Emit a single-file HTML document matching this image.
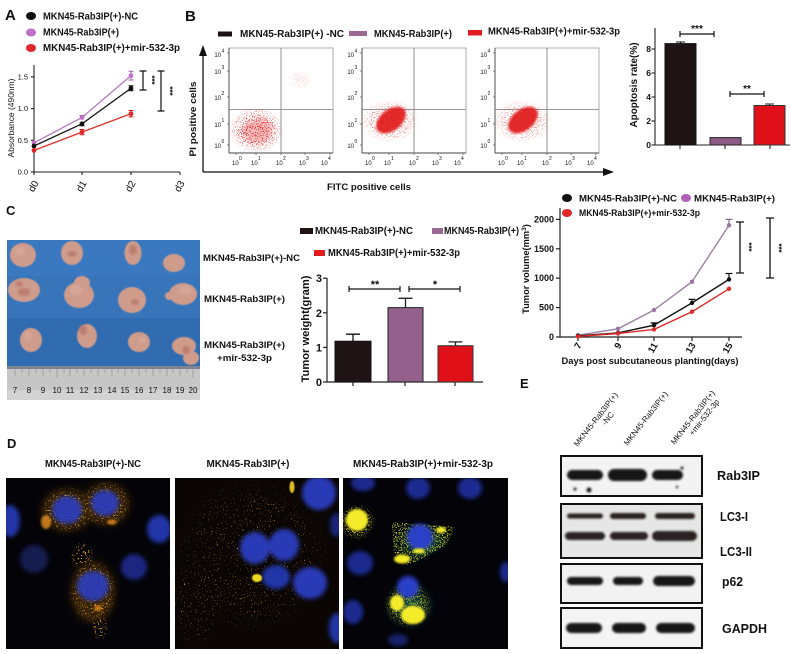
<!DOCTYPE html>
<html><head><meta charset="utf-8"><style>
html,body{margin:0;padding:0;background:#fff;}
svg{display:block;}
text{font-family:"Liberation Sans",Arial,sans-serif;fill:#111;}
.b{font-weight:bold;}
</style></head><body>
<svg width="791" height="654" viewBox="0 0 791 654" xmlns="http://www.w3.org/2000/svg">
<defs>
  <filter id="bl2" x="-50%" y="-50%" width="200%" height="200%"><feGaussianBlur stdDeviation="2.2"/></filter>
  <filter id="bl4" x="-50%" y="-50%" width="200%" height="200%"><feGaussianBlur stdDeviation="4"/></filter>
  <filter id="bl1" x="-50%" y="-50%" width="200%" height="200%"><feGaussianBlur stdDeviation="1"/></filter>
  <filter id="bl05" x="-50%" y="-50%" width="200%" height="200%"><feGaussianBlur stdDeviation="0.6"/></filter>
  <filter id="spA" x="-10%" y="-10%" width="120%" height="120%" color-interpolation-filters="sRGB">
    <feTurbulence type="fractalNoise" baseFrequency="0.8" numOctaves="1" seed="7" result="t"/>
    <feColorMatrix in="t" type="matrix" values="0 0 0 0 0  0 0 0 0 0  0 0 0 0 0  1.3 0 0 0 -0.15" result="a"/>
    <feComponentTransfer in="a" result="m"><feFuncA type="discrete" tableValues="0 0 0 0 0 0 1 1 1 1"/></feComponentTransfer>
    <feComposite in="SourceGraphic" in2="m" operator="in"/>
  </filter>
  <filter id="spB" x="-10%" y="-10%" width="120%" height="120%" color-interpolation-filters="sRGB">
    <feTurbulence type="fractalNoise" baseFrequency="0.6" numOctaves="2" seed="11" result="t"/>
    <feColorMatrix in="t" type="matrix" values="0 0 0 0 0  0 0 0 0 0  0 0 0 0 0  1.3 0 0 0 -0.15" result="a"/>
    <feComponentTransfer in="a" result="m"><feFuncA type="discrete" tableValues="0 0 0 0 0 0 0 1 1 1"/></feComponentTransfer>
    <feComposite in="SourceGraphic" in2="m" operator="in"/>
  </filter>
  <filter id="spC" x="-10%" y="-10%" width="120%" height="120%" color-interpolation-filters="sRGB">
    <feTurbulence type="fractalNoise" baseFrequency="0.7" numOctaves="2" seed="4" result="t"/>
    <feColorMatrix in="t" type="matrix" values="0 0 0 0 0  0 0 0 0 0  0 0 0 0 0  1.3 0 0 0 -0.15" result="a"/>
    <feComponentTransfer in="a" result="m"><feFuncA type="discrete" tableValues="0 0 0 0 0 0 0 0 1 1"/></feComponentTransfer>
    <feComposite in="SourceGraphic" in2="m" operator="in"/>
  </filter>
  <radialGradient id="rg" cx="0.5" cy="0.5" r="0.5">
    <stop offset="0" stop-color="#e01818" stop-opacity="1"/>
    <stop offset="0.6" stop-color="#e01818" stop-opacity="0.8"/>
    <stop offset="1" stop-color="#e01818" stop-opacity="0"/>
  </radialGradient>
  <radialGradient id="og" cx="0.5" cy="0.5" r="0.5">
    <stop offset="0" stop-color="#f0a020" stop-opacity="1"/>
    <stop offset="0.7" stop-color="#e8a018" stop-opacity="0.9"/>
    <stop offset="1" stop-color="#e8a018" stop-opacity="0"/>
  </radialGradient>
  <radialGradient id="yg" cx="0.5" cy="0.5" r="0.5">
    <stop offset="0" stop-color="#f4ec30" stop-opacity="1"/>
    <stop offset="0.7" stop-color="#e8e020" stop-opacity="0.9"/>
    <stop offset="1" stop-color="#d8d820" stop-opacity="0"/>
  </radialGradient>
  <radialGradient id="gg" cx="0.5" cy="0.5" r="0.5">
    <stop offset="0" stop-color="#40d0a0" stop-opacity="0.7"/>
    <stop offset="1" stop-color="#30b090" stop-opacity="0"/>
  </radialGradient>
  <clipPath id="cpPhoto"><rect x="7" y="240" width="193" height="160"/></clipPath>
  <clipPath id="cpD1"><rect x="6" y="478" width="164" height="171"/></clipPath>
  <clipPath id="cpD2"><rect x="175" y="478" width="164" height="171"/></clipPath>
  <clipPath id="cpD3"><rect x="343" y="478" width="165" height="171"/></clipPath>
</defs>

<!-- ================= PANEL A ================= -->
<text x="5" y="20" class="b" font-size="15">A</text>
<ellipse cx="31" cy="16" rx="5" ry="4" fill="#111"/>
<text x="43" y="19.5" class="b" font-size="10" textLength="95" lengthAdjust="spacingAndGlyphs">MKN45-Rab3IP(+)-NC</text>
<ellipse cx="31" cy="32.5" rx="5" ry="4" fill="#c070c8"/>
<text x="43" y="35.5" class="b" font-size="10" textLength="76" lengthAdjust="spacingAndGlyphs">MKN45-Rab3IP(+)</text>
<ellipse cx="31" cy="48" rx="5" ry="4" fill="#e0282a"/>
<text x="43" y="51" class="b" font-size="10" textLength="137" lengthAdjust="spacingAndGlyphs">MKN45-Rab3IP(+)+mir-532-3p</text>

<g stroke="#222" stroke-width="1.1" fill="none">
  <line x1="34" y1="65" x2="34" y2="172.5"/>
  <line x1="34" y1="172" x2="180" y2="172"/>
  <line x1="31" y1="172" x2="34" y2="172"/>
  <line x1="31" y1="140.3" x2="34" y2="140.3"/>
  <line x1="31" y1="108.6" x2="34" y2="108.6"/>
  <line x1="31" y1="76.9" x2="34" y2="76.9"/>
  <line x1="34" y1="172" x2="34" y2="175"/>
  <line x1="82" y1="172" x2="82" y2="175"/>
  <line x1="131" y1="172" x2="131" y2="175"/>
  <line x1="180" y1="172" x2="180" y2="175"/>
</g>
<g font-size="7.5" text-anchor="end">
  <text x="28" y="174.5">0.0</text>
  <text x="28" y="142.8">0.5</text>
  <text x="28" y="111.1">1.0</text>
  <text x="28" y="79.4">1.5</text>
</g>
<text transform="translate(14,118) rotate(-90)" font-size="8.5" text-anchor="middle" textLength="79" lengthAdjust="spacingAndGlyphs">Absorbance (490nm)</text>
<g font-size="10" text-anchor="end">
  <text transform="translate(39,183) rotate(-60)">d0</text>
  <text transform="translate(87,183) rotate(-60)">d1</text>
  <text transform="translate(136,183) rotate(-60)">d2</text>
  <text transform="translate(185,183) rotate(-60)">d3</text>
</g>
<polyline points="34,142.8 82,117.5 131,75.6" fill="none" stroke="#b878c0" stroke-width="1.3"/>
<polyline points="34,146 82,123.8 131,88.3" fill="none" stroke="#1a1a1a" stroke-width="1.3"/>
<polyline points="34,150.4 82,132.1 131,113.7" fill="none" stroke="#e0302a" stroke-width="1.3"/>
<g stroke-width="1" fill="none">
  <path d="M131 71.2V80M128.5 71.2H133.5M128.5 80H133.5" stroke="#a060a8"/>
  <path d="M131 85.8V90.8M128.5 85.8H133.5M128.5 90.8H133.5" stroke="#111"/>
  <path d="M131 110.5V116.9M128.5 110.5H133.5M128.5 116.9H133.5" stroke="#d02020"/>
  <path d="M82 115.5V119.5M79.5 115.5H84.5" stroke="#a060a8"/>
  <path d="M82 121.8V125.8M79.5 125.8H84.5" stroke="#111"/>
  <path d="M82 129.5V134.7M79.5 129.5H84.5M79.5 134.7H84.5" stroke="#d02020"/>
</g>
<g fill="#c070c8"><circle cx="34" cy="142.8" r="2.4"/><circle cx="82" cy="117.5" r="2.4"/><circle cx="131" cy="75.6" r="2.4"/></g>
<g fill="#111"><circle cx="34" cy="146" r="2.4"/><circle cx="82" cy="123.8" r="2.4"/><circle cx="131" cy="88.3" r="2.4"/></g>
<g fill="#e0282a"><circle cx="34" cy="150.4" r="2.4"/><circle cx="82" cy="132.1" r="2.4"/><circle cx="131" cy="113.7" r="2.4"/></g>
<g stroke="#111" stroke-width="1.2">
  <path d="M143 71V90M139.5 71H146.5M139.5 90H146.5" fill="none"/>
  <path d="M161 71V111M157.5 71H164.5M157.5 111H164.5" fill="none"/>
</g>
<text transform="translate(149,80) rotate(90)" class="b" font-size="8" text-anchor="middle">***</text>
<text transform="translate(167,91) rotate(90)" class="b" font-size="8" text-anchor="middle">***</text>

<!-- ================= PANEL B ================= -->
<text x="185" y="21" class="b" font-size="15">B</text>
<rect x="218" y="31.5" width="14" height="5" fill="#1a1214"/>
<text x="240" y="37" class="b" font-size="10" textLength="104" lengthAdjust="spacingAndGlyphs">MKN45-Rab3IP(+) -NC</text>
<rect x="349" y="31" width="18" height="5" fill="#9a6a92"/>
<text x="374" y="37" class="b" font-size="10" textLength="78" lengthAdjust="spacingAndGlyphs">MKN45-Rab3IP(+)</text>
<rect x="468" y="30" width="14" height="5.5" fill="#e01c20"/>
<text x="488" y="34.5" class="b" font-size="10" textLength="132" lengthAdjust="spacingAndGlyphs">MKN45-Rab3IP(+)+mir-532-3p</text>

<g stroke="#111" stroke-width="1.3">
  <line x1="203" y1="52" x2="203" y2="172"/>
  <line x1="203" y1="172" x2="606" y2="172"/>
</g>
<polygon points="203,45 199,56 207,56" fill="#111"/>
<polygon points="614,172 603,168 603,176" fill="#111"/>
<text transform="translate(196,119) rotate(-90)" class="b" font-size="9.6" text-anchor="middle" textLength="75" lengthAdjust="spacingAndGlyphs">PI positive cells</text>
<text x="369" y="190" class="b" font-size="9.6" text-anchor="middle" textLength="84" lengthAdjust="spacingAndGlyphs">FITC positive cells</text>

<g id="fp1">
  <rect x="229" y="48" width="104" height="105" fill="#fff" stroke="#9a9a9a" stroke-width="0.8"/>
  <line x1="229" y1="48" x2="229" y2="153" stroke="#444" stroke-width="0.9"/>
  <line x1="229" y1="153" x2="333" y2="153" stroke="#444" stroke-width="0.9"/>
  <line x1="281" y1="48" x2="281" y2="153" stroke="#777" stroke-width="0.8"/>
  <line x1="229" y1="109.5" x2="333" y2="109.5" stroke="#777" stroke-width="0.8"/>
  <g stroke="#555" stroke-width="0.7">
    <line x1="227" y1="53" x2="229" y2="53"/><line x1="227" y1="71" x2="229" y2="71"/><line x1="227" y1="97" x2="229" y2="97"/><line x1="227" y1="124" x2="229" y2="124"/><line x1="227" y1="145" x2="229" y2="145"/>
    <line x1="236" y1="153" x2="236" y2="155"/><line x1="256" y1="153" x2="256" y2="155"/><line x1="281" y1="153" x2="281" y2="155"/><line x1="305" y1="153" x2="305" y2="155"/><line x1="330" y1="153" x2="330" y2="155"/>
  </g>
  <g font-size="6" text-anchor="end">
    <text x="221" y="57">10</text><text x="221" y="74">10</text><text x="221" y="100">10</text><text x="221" y="127">10</text><text x="221" y="148">10</text>
  </g>
  <g font-size="5">
    <text x="221.5" y="52.5">4</text><text x="221.5" y="69">3</text><text x="221.5" y="95">2</text><text x="221.5" y="122">1</text><text x="221.5" y="143">0</text>
  </g>
  <g font-size="6">
    <text x="232" y="165">10</text><text x="251" y="165">10</text><text x="276" y="165">10</text><text x="299" y="165">10</text><text x="321" y="165">10</text>
  </g>
  <g font-size="5">
    <text x="239" y="160">0</text><text x="258" y="160">1</text><text x="283" y="160">2</text><text x="306" y="160">3</text><text x="328" y="160">4</text>
  </g>
</g>
<use href="#fp1" transform="translate(133,0)"/>
<use href="#fp1" transform="translate(266,0)"/>
<ellipse cx="256" cy="130" rx="28" ry="23" fill="url(#rg)" filter="url(#spA)" opacity="0.9"/>
<ellipse cx="258" cy="131" rx="15" ry="12" fill="#e02020" opacity="0.3" filter="url(#bl2)"/>
<ellipse cx="300" cy="80" rx="12" ry="10" fill="url(#rg)" filter="url(#spA)" opacity="0.2"/>
<ellipse cx="390" cy="121" rx="30" ry="22" fill="url(#rg)" filter="url(#spA)" opacity="0.55"/>
<ellipse cx="391" cy="120" rx="17" ry="10.5" transform="rotate(-38 391 120)" fill="#e01818" opacity="0.9" filter="url(#bl1)"/>
<ellipse cx="522" cy="121" rx="30" ry="22" fill="url(#rg)" filter="url(#spA)" opacity="0.55"/>
<ellipse cx="523" cy="120" rx="17" ry="10.5" transform="rotate(-38 523 120)" fill="#e01818" opacity="0.9" filter="url(#bl1)"/>

<!-- B bar chart -->
<g stroke="#222" stroke-width="1.1">
  <line x1="655" y1="28" x2="655" y2="145.5"/>
  <line x1="655" y1="145" x2="790" y2="145"/>
  <line x1="651.5" y1="145" x2="655" y2="145"/><line x1="651.5" y1="121" x2="655" y2="121"/><line x1="651.5" y1="97" x2="655" y2="97"/><line x1="651.5" y1="73" x2="655" y2="73"/><line x1="651.5" y1="49" x2="655" y2="49"/>
  <line x1="680" y1="145" x2="680" y2="149"/><line x1="725" y1="145" x2="725" y2="149"/><line x1="770" y1="145" x2="770" y2="149"/>
</g>
<g class="b" font-size="8.5" text-anchor="end">
  <text x="651" y="148">0</text><text x="651" y="124">2</text><text x="651" y="100">4</text><text x="651" y="76">6</text><text x="651" y="52">8</text>
</g>
<text transform="translate(637,85) rotate(-90)" class="b" font-size="10" text-anchor="middle" textLength="85" lengthAdjust="spacingAndGlyphs">Apoptosis rate(%)</text>
<rect x="665" y="43.6" width="31" height="101.4" fill="#1e1416" stroke="#111" stroke-width="1"/>
<path d="M680.5 42V43.6M676 42H685" stroke="#111" stroke-width="1"/>
<rect x="710" y="137.6" width="31" height="7.4" fill="#8e5a86" stroke="#222" stroke-width="1"/>
<rect x="754" y="105.5" width="31" height="39.5" fill="#e01018" stroke="#333" stroke-width="1"/>
<path d="M769.5 104V105.5M765 104H774" stroke="#222" stroke-width="1"/>
<g stroke="#111" stroke-width="1.2" fill="none">
  <path d="M680 34H714M680 31V37M714 31V37"/>
  <path d="M730 94H764M730 91V97M764 91V97"/>
</g>
<text x="697" y="32" class="b" font-size="10" text-anchor="middle">***</text>
<text x="747" y="92" class="b" font-size="10" text-anchor="middle">**</text>

<!-- ================= PANEL C ================= -->
<text x="6" y="215" class="b" font-size="13">C</text>
<g clip-path="url(#cpPhoto)">
  <rect x="7" y="240" width="193" height="128" fill="#3470b5"/>
  <rect x="7" y="240" width="193" height="36" fill="#3a79c0"/>
  <rect x="7" y="276" width="193" height="42" fill="#3774ba"/>
  <rect x="7" y="318" width="193" height="50" fill="#316cb0"/>
  <rect x="7" y="366" width="193" height="34" fill="#c6c6c6"/>
  <rect x="7" y="366" width="193" height="3" fill="#7d8590"/>
  <rect x="7" y="390" width="193" height="10" fill="#d2d2d2"/>
  <g stroke="#888" stroke-width="0.6">
    <path d="M15 369V376M22 369V373M29 369V376M36 369V373M43 369V376M50 369V373M57 369V378M64 369V373M70 369V376M77 369V373M84 369V376M91 369V373M98 369V376M105 369V373M112 369V376M118 369V373M125 369V376M132 369V373M139 369V376M146 369V373M153 369V376M160 369V373M167 369V376M173 369V373M180 369V376M187 369V373M193 369V378"/>
  </g>
  <g font-size="8" text-anchor="middle">
    <text x="15" y="393" fill="#555">7</text><text x="29" y="393" fill="#555">8</text><text x="43" y="393" fill="#555">9</text><text x="57" y="393" fill="#b03040">10</text><text x="70" y="393" fill="#555">11</text><text x="84" y="393" fill="#555">12</text><text x="98" y="393" fill="#555">13</text><text x="112" y="393" fill="#555">14</text><text x="125" y="393" fill="#555">15</text><text x="139" y="393" fill="#555">16</text><text x="153" y="393" fill="#555">17</text><text x="167" y="393" fill="#555">18</text><text x="180" y="393" fill="#555">19</text><text x="193" y="393" fill="#b03040">20</text>
  </g>
  <g fill="#cf9c8c" filter="url(#bl05)">
    <ellipse cx="23" cy="255" rx="13" ry="12"/><ellipse cx="72" cy="253" rx="11" ry="12"/><ellipse cx="133" cy="253" rx="8.5" ry="12"/><ellipse cx="174" cy="263" rx="11" ry="9"/>
    <ellipse cx="24" cy="290" rx="16" ry="12"/><ellipse cx="79" cy="295" rx="15" ry="13"/><ellipse cx="82" cy="283" rx="8" ry="7"/><ellipse cx="132" cy="300" rx="14" ry="13"/><ellipse cx="183" cy="294" rx="14" ry="11"/><ellipse cx="169" cy="296" rx="4" ry="4"/>
    <ellipse cx="31" cy="340" rx="11" ry="12"/><ellipse cx="87" cy="336" rx="10" ry="12"/><ellipse cx="139" cy="342" rx="11" ry="10"/><ellipse cx="184" cy="346" rx="12" ry="9"/><ellipse cx="191" cy="358" rx="8" ry="7"/>
  </g>
  <g fill="#b06a60" opacity="0.6" filter="url(#bl1)">
    <ellipse cx="72" cy="254" rx="5" ry="3"/><ellipse cx="133" cy="250" rx="4" ry="5"/><ellipse cx="24" cy="292" rx="6" ry="4"/><ellipse cx="19" cy="284" rx="4" ry="3"/><ellipse cx="83" cy="330" rx="4" ry="5"/><ellipse cx="135" cy="302" rx="4" ry="3"/><ellipse cx="186" cy="350" rx="4" ry="4"/>
  </g>
  <g fill="#dcb0a0" opacity="0.5" filter="url(#bl1)">
    <ellipse cx="20" cy="251" rx="5" ry="4"/><ellipse cx="76" cy="290" rx="6" ry="5"/><ellipse cx="185" cy="290" rx="6" ry="4"/><ellipse cx="142" cy="340" rx="4" ry="3"/><ellipse cx="28" cy="336" rx="4" ry="4"/>
  </g>
</g>
<g class="b" font-size="9.6">
  <text x="203" y="261" textLength="97" lengthAdjust="spacingAndGlyphs">MKN45-Rab3IP(+)-NC</text>
  <text x="204" y="302" textLength="81" lengthAdjust="spacingAndGlyphs">MKN45-Rab3IP(+)</text>
  <text x="204" y="348" textLength="81" lengthAdjust="spacingAndGlyphs">MKN45-Rab3IP(+)</text>
  <text x="217" y="361" textLength="55" lengthAdjust="spacingAndGlyphs">+mir-532-3p</text>
</g>

<!-- C bar chart -->
<rect x="300" y="228" width="13" height="6" fill="#1e1416"/>
<text x="315" y="234" class="b" font-size="9.7" textLength="98" lengthAdjust="spacingAndGlyphs">MKN45-Rab3IP(+)-NC</text>
<rect x="432" y="228" width="11" height="6" fill="#9a6a92"/>
<text x="444" y="234" class="b" font-size="9.7" textLength="75" lengthAdjust="spacingAndGlyphs">MKN45-Rab3IP(+)</text>
<rect x="314" y="250" width="11" height="6" fill="#e01c20"/>
<text x="328" y="256" class="b" font-size="9.7" textLength="132" lengthAdjust="spacingAndGlyphs">MKN45-Rab3IP(+)+mir-532-3p</text>
<g stroke="#222" stroke-width="1.2">
  <line x1="327" y1="278" x2="327" y2="382.6"/>
  <line x1="327" y1="382" x2="483" y2="382"/>
  <line x1="323" y1="382" x2="327" y2="382"/><line x1="323" y1="347.4" x2="327" y2="347.4"/><line x1="323" y1="312.8" x2="327" y2="312.8"/><line x1="323" y1="278.2" x2="327" y2="278.2"/>
  <line x1="353" y1="382" x2="353" y2="386"/><line x1="405" y1="382" x2="405" y2="386"/><line x1="455" y1="382" x2="455" y2="386"/>
</g>
<g class="b" font-size="11" text-anchor="end">
  <text x="322" y="386">0</text><text x="322" y="351.4">1</text><text x="322" y="316.8">2</text><text x="322" y="282.2">3</text>
</g>
<text transform="translate(309,329) rotate(-90)" class="b" font-size="11" text-anchor="middle" textLength="107" lengthAdjust="spacingAndGlyphs">Tumor weight(gram)</text>
<path d="M353 334.2V341.2M346 334.2H360" stroke="#111" stroke-width="1.3"/>
<rect x="335" y="341.2" width="36" height="40.8" fill="#1e1416" stroke="#111" stroke-width="1"/>
<path d="M405.5 298.3V307.6M398.5 298.3H412.5" stroke="#222" stroke-width="1.3"/>
<rect x="388" y="307.6" width="35" height="74.4" fill="#94608c" stroke="#222" stroke-width="1"/>
<path d="M455.5 341.9V345.7M448.5 341.9H462.5" stroke="#222" stroke-width="1.3"/>
<rect x="438" y="345.7" width="35" height="36.3" fill="#e01018" stroke="#333" stroke-width="1"/>
<g stroke="#111" stroke-width="1.2" fill="none">
  <path d="M349 289H400M349 286V292M400 286V292"/>
  <path d="M409 289H460M409 286V292M460 286V292"/>
</g>
<text x="375" y="288" class="b" font-size="11" text-anchor="middle">**</text>
<text x="435" y="288" class="b" font-size="11" text-anchor="middle">*</text>

<!-- C line chart -->
<ellipse cx="567" cy="198" rx="5" ry="4" fill="#111"/>
<text x="579" y="201.5" class="b" font-size="9" textLength="98" lengthAdjust="spacingAndGlyphs">MKN45-Rab3IP(+)-NC</text>
<ellipse cx="686" cy="198" rx="5" ry="4" fill="#b060b8"/>
<text x="694" y="201.5" class="b" font-size="9" textLength="81" lengthAdjust="spacingAndGlyphs">MKN45-Rab3IP(+)</text>
<ellipse cx="567" cy="213" rx="5" ry="4" fill="#e02828"/>
<text x="579" y="216" class="b" font-size="9" textLength="121" lengthAdjust="spacingAndGlyphs">MKN45-Rab3IP(+)+mir-532-3p</text>
<g stroke="#222" stroke-width="1.2">
  <line x1="560" y1="208" x2="560" y2="337.6"/>
  <line x1="560" y1="337" x2="742" y2="337"/>
  <line x1="556" y1="337" x2="560" y2="337"/><line x1="556" y1="307.6" x2="560" y2="307.6"/><line x1="556" y1="278.2" x2="560" y2="278.2"/><line x1="556" y1="248.8" x2="560" y2="248.8"/><line x1="556" y1="219.4" x2="560" y2="219.4"/>
  <line x1="578" y1="337" x2="578" y2="341"/><line x1="618" y1="337" x2="618" y2="341"/><line x1="654" y1="337" x2="654" y2="341"/><line x1="692" y1="337" x2="692" y2="341"/><line x1="729" y1="337" x2="729" y2="341"/>
</g>
<g class="b" font-size="9" text-anchor="end">
  <text x="554" y="340">0</text><text x="554" y="310.6">500</text><text x="554" y="281.2">1000</text><text x="554" y="251.8">1500</text><text x="554" y="222.4">2000</text>
</g>
<text transform="translate(529,269) rotate(-90)" class="b" font-size="9.3" text-anchor="middle">Tumor volume(mm<tspan font-size="6.5" dy="-3">3</tspan><tspan dy="3">)</tspan></text>
<g class="b" font-size="9.5" text-anchor="end">
  <text transform="translate(582,345) rotate(-60)">7</text>
  <text transform="translate(622,345) rotate(-60)">9</text>
  <text transform="translate(658,345) rotate(-60)">11</text>
  <text transform="translate(696,345) rotate(-60)">13</text>
  <text transform="translate(733,345) rotate(-60)">15</text>
</g>
<text x="650" y="364" class="b" font-size="9" text-anchor="middle" textLength="177" lengthAdjust="spacingAndGlyphs">Days post subcutaneous planting(days)</text>
<polyline points="578,335.2 618,328.8 654,310 692,281.7 729,225.3" fill="none" stroke="#a080a4" stroke-width="1.4"/>
<polyline points="578,335.8 618,332.9 654,325.2 692,302.9 729,279.4" fill="none" stroke="#111" stroke-width="1.4"/>
<polyline points="578,336.4 618,333.5 654,329.4 692,311.7 729,288.8" fill="none" stroke="#e02828" stroke-width="1.4"/>
<g stroke-width="1.2" fill="none">
  <path d="M729 219.4V225.3M725.5 219.4H732.5" stroke="#906890"/>
  <path d="M729 273.5V279.4M725.5 273.5H732.5" stroke="#111"/>
  <path d="M692 299.4V302.9M688.5 299.4H695.5" stroke="#111"/>
  <path d="M654 322.9V325.2M650.5 322.9H657.5" stroke="#111"/>
</g>
<g fill="#a070a8"><circle cx="578" cy="335.2" r="2.2"/><circle cx="618" cy="328.8" r="2.2"/><circle cx="654" cy="310" r="2.2"/><circle cx="692" cy="281.7" r="2.2"/><circle cx="729" cy="225.3" r="2.2"/></g>
<g fill="#111"><circle cx="578" cy="335.8" r="2.2"/><circle cx="618" cy="332.9" r="2.2"/><circle cx="654" cy="325.2" r="2.2"/><circle cx="692" cy="302.9" r="2.2"/><circle cx="729" cy="279.4" r="2.2"/></g>
<g fill="#e02828"><circle cx="578" cy="336.4" r="2.2"/><circle cx="618" cy="333.5" r="2.2"/><circle cx="654" cy="329.4" r="2.2"/><circle cx="692" cy="311.7" r="2.2"/><circle cx="729" cy="288.8" r="2.2"/></g>
<g stroke="#111" stroke-width="1.3" fill="none">
  <path d="M740 222V273M736 222H744M736 273H744"/>
  <path d="M770 218V278M766 218H774M766 278H774"/>
</g>
<text transform="translate(746,247) rotate(90)" class="b" font-size="8" text-anchor="middle">***</text>
<text transform="translate(776,248) rotate(90)" class="b" font-size="8" text-anchor="middle">***</text>

<!-- ================= PANEL D ================= -->
<text x="7" y="448" class="b" font-size="13">D</text>
<g class="b" font-size="10" text-anchor="middle">
  <text x="93" y="467" textLength="96" lengthAdjust="spacingAndGlyphs">MKN45-Rab3IP(+)-NC</text>
  <text x="248" y="467" textLength="83" lengthAdjust="spacingAndGlyphs">MKN45-Rab3IP(+)</text>
  <text x="423" y="467" textLength="140" lengthAdjust="spacingAndGlyphs">MKN45-Rab3IP(+)+mir-532-3p</text>
</g>
<!-- D1 -->
<g clip-path="url(#cpD1)">
  <rect x="6" y="478" width="164" height="171" fill="#040408"/>
  <g filter="url(#bl2)">
    <ellipse cx="34" cy="559" rx="14" ry="14" fill="#121a50"/>
    <ellipse cx="134" cy="567" rx="13" ry="13" fill="#1a2680"/>
    <ellipse cx="10" cy="521" rx="10" ry="16" fill="#2236a8"/>
    <ellipse cx="159" cy="529" rx="12" ry="14" fill="#2236a8"/>
  </g>
  <g filter="url(#bl4)" opacity="0.25">
    <ellipse cx="67" cy="510" rx="25" ry="21" fill="#d08010"/>
    <ellipse cx="106" cy="504" rx="23" ry="21" fill="#d08010"/>
    <ellipse cx="93" cy="592" rx="22" ry="30" fill="#d08010"/>
  </g>
  <g filter="url(#spB)">
    <ellipse cx="67" cy="510" rx="27" ry="23" fill="url(#og)"/>
    <ellipse cx="106" cy="504" rx="25" ry="23" fill="url(#og)"/>
    <ellipse cx="93" cy="592" rx="24" ry="32" fill="url(#og)"/>
    <ellipse cx="82" cy="556" rx="12" ry="15" fill="url(#og)"/>
    <ellipse cx="100" cy="627" rx="8" ry="14" fill="url(#og)"/>
  </g>
  <g filter="url(#bl2)" opacity="0.9">
    <ellipse cx="67" cy="510" rx="15" ry="14" fill="#2a3cc0"/>
    <ellipse cx="105" cy="503" rx="14" ry="13" fill="#2a3cc0"/>
    <ellipse cx="93" cy="586" rx="16" ry="15" fill="#2a3cc0"/>
  </g>
  <g filter="url(#bl1)" fill="#e89020" opacity="0.8">
    <ellipse cx="46" cy="522" rx="5" ry="7"/>
    <ellipse cx="112" cy="522" rx="5" ry="2.5"/>
    <ellipse cx="98" cy="608" rx="4" ry="3"/>
  </g>
</g>
<!-- D2 -->
<g clip-path="url(#cpD2)">
  <rect x="175" y="478" width="164" height="171" fill="#0b0604"/>
  <g filter="url(#spC)" opacity="0.9">
    <ellipse cx="252" cy="555" rx="78" ry="78" fill="url(#og)"/>
    <ellipse cx="195" cy="605" rx="25" ry="45" fill="url(#og)"/>
  </g>
  <g filter="url(#bl2)" opacity="0.95">
    <ellipse cx="319" cy="493" rx="17" ry="17" fill="#2a3cc0"/>
    <ellipse cx="255" cy="548" rx="15" ry="16" fill="#2a3cc0"/>
    <ellipse cx="284" cy="545" rx="15" ry="16" fill="#2a3cc0"/>
    <ellipse cx="276" cy="577" rx="14" ry="12" fill="#2438b0"/>
    <ellipse cx="310" cy="583" rx="17" ry="16" fill="#2a3cc0"/>
    <ellipse cx="337" cy="628" rx="8" ry="15" fill="#2438b0"/>
    <ellipse cx="336" cy="525" rx="6" ry="12" fill="#1a2680"/>
  </g>
  <ellipse cx="257" cy="578" rx="5" ry="4" fill="#f0d820" filter="url(#bl05)"/>
  <ellipse cx="292" cy="487" rx="2.5" ry="6" fill="#e0c020" filter="url(#bl05)"/>
</g>
<!-- D3 -->
<g clip-path="url(#cpD3)">
  <rect x="343" y="478" width="165" height="171" fill="#030308"/>
  <g filter="url(#bl2)">
    <ellipse cx="363" cy="483" rx="12" ry="8" fill="#1c2a90"/>
    <ellipse cx="418" cy="488" rx="12" ry="11" fill="#1c2a90"/>
    <ellipse cx="470" cy="488" rx="12" ry="11" fill="#1c2a90"/>
    <ellipse cx="360" cy="563" rx="13" ry="12" fill="#1c2a90"/>
    <ellipse cx="353" cy="612" rx="10" ry="12" fill="#1c2a90"/>
    <ellipse cx="506" cy="572" rx="6" ry="10" fill="#1c2a90"/>
    <ellipse cx="398" cy="640" rx="10" ry="6" fill="#14206a"/>
  </g>
  <g filter="url(#bl2)" opacity="0.6">
    <polygon points="392,522 455,526 446,545 408,566 394,552" fill="url(#gg)"/>
    <ellipse cx="410" cy="605" rx="26" ry="25" fill="url(#gg)"/>
  </g>
  <g filter="url(#spA)" opacity="0.85">
    <polygon points="392,522 455,527 446,545 408,566 394,552" fill="#d8e030"/>
    <ellipse cx="408" cy="605" rx="24" ry="23" fill="url(#yg)"/>
    <ellipse cx="357" cy="522" rx="18" ry="18" fill="url(#yg)"/>
  </g>
  <g filter="url(#bl2)">
    <ellipse cx="420" cy="537" rx="13" ry="13" fill="#2a40c8"/>
    <ellipse cx="408" cy="587" rx="11" ry="11" fill="#2a40c8"/>
  </g>
  <g filter="url(#bl1)" fill="#f4ec2a">
    <ellipse cx="357" cy="520" rx="11" ry="11"/>
    <ellipse cx="413" cy="615" rx="12" ry="9"/>
    <ellipse cx="397" cy="603" rx="7" ry="8"/>
    <ellipse cx="402" cy="559" rx="8" ry="4.5"/>
    <ellipse cx="441" cy="530" rx="5" ry="3"/>
    <ellipse cx="419" cy="551" rx="6" ry="2.5"/>
  </g>
</g>

<!-- ================= PANEL E ================= -->
<text x="520" y="388" class="b" font-size="13">E</text>
<g font-size="8" text-anchor="middle">
  <g transform="translate(598,421) rotate(-52)"><text x="0" y="0">MKN45-Rab3IP(+)</text><text x="8" y="9">-NC</text></g>
  <g transform="translate(648,420) rotate(-52)"><text x="0" y="0">MKN45-Rab3IP(+)</text></g>
  <g transform="translate(695,419) rotate(-52)"><text x="0" y="0">MKN45-Rab3IP(+)</text><text x="7" y="9">+mir-532-3p</text></g>
</g>
<rect x="561" y="456" width="141" height="40" fill="#f3f3f3" stroke="#111" stroke-width="2"/>
<rect x="561" y="504" width="141" height="54" fill="#e6e6e6" stroke="#111" stroke-width="2"/>
<rect x="561" y="564" width="141" height="39" fill="#f2f2f2" stroke="#111" stroke-width="2"/>
<rect x="561" y="608" width="141" height="40" fill="#f4f4f4" stroke="#111" stroke-width="2"/>
<g fill="#161616" filter="url(#bl1)">
  <rect x="567" y="470" width="36" height="10" rx="5"/>
  <rect x="608" y="469" width="39" height="12" rx="6"/>
  <rect x="652" y="470" width="31" height="10" rx="5"/>
  <circle cx="575" cy="489" r="1.5"/><circle cx="589" cy="490" r="2.5"/><circle cx="682" cy="468" r="1.5"/><circle cx="677" cy="487" r="1.2"/>
  <rect x="567" y="513.5" width="36" height="5" rx="2.5" fill="#2a2224"/>
  <rect x="610" y="513" width="36" height="6" rx="3" fill="#2a2224"/>
  <rect x="655" y="513" width="40" height="6" rx="3" fill="#2a2224"/>
  <rect x="565" y="532" width="40" height="8" rx="4" fill="#2a2224"/>
  <rect x="610" y="532" width="38" height="8" rx="4" fill="#2a2224"/>
  <rect x="652" y="531" width="45" height="10" rx="5" fill="#2a2224"/>
  <rect x="567" y="577" width="36" height="8" rx="4"/>
  <rect x="613" y="577" width="30" height="8" rx="4"/>
  <rect x="653" y="576" width="42" height="10" rx="5"/>
  <rect x="566" y="623" width="36" height="10" rx="5"/>
  <rect x="612" y="623" width="34" height="10" rx="5"/>
  <rect x="656" y="623" width="39" height="10" rx="5"/>
</g>
<g class="b" font-size="12.5">
  <text x="717" y="480" textLength="43" lengthAdjust="spacingAndGlyphs">Rab3IP</text>
  <text x="720" y="521" textLength="28" lengthAdjust="spacingAndGlyphs">LC3-I</text>
  <text x="720" y="556" textLength="32" lengthAdjust="spacingAndGlyphs">LC3-II</text>
  <text x="722" y="586" textLength="21" lengthAdjust="spacingAndGlyphs">p62</text>
  <text x="722" y="633" textLength="45" lengthAdjust="spacingAndGlyphs">GAPDH</text>
</g>
</svg>
</body></html>
